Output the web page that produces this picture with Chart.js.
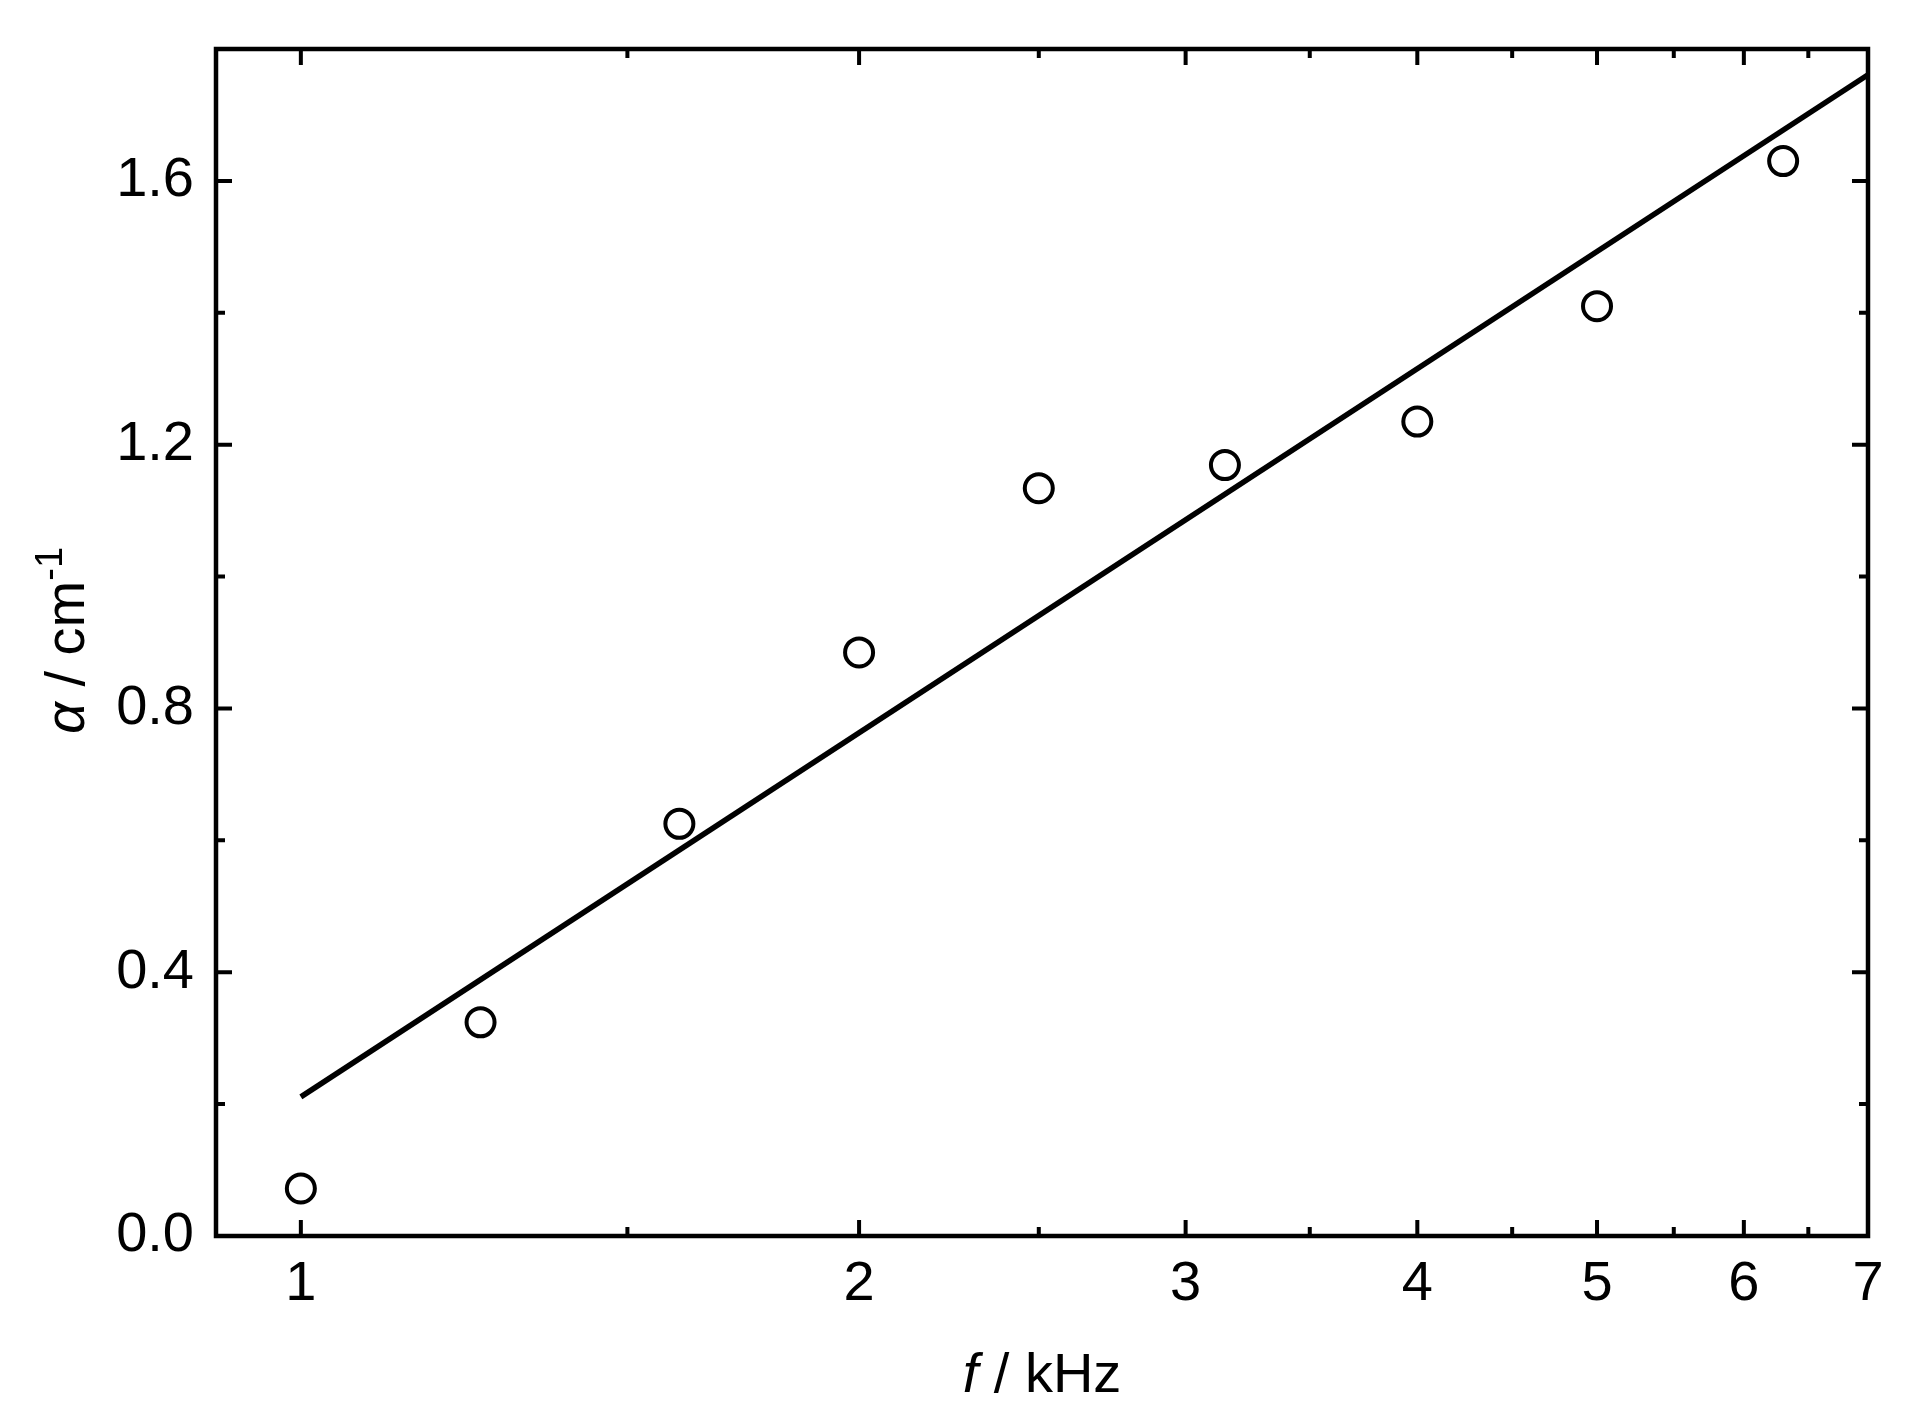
<!DOCTYPE html>
<html>
<head>
<meta charset="utf-8">
<script src="https://cdn.jsdelivr.net/npm/chart.js@4"></script>
<style>
  html, body { margin: 0; padding: 0; background: #fff; }
  #wrap { width: 1906px; height: 1419px; }
</style>
</head>
<body>
<div id="wrap"><canvas id="chart"></canvas></div>
<script>
// measured points (1/3 octave band frequencies)
const freqKHz = [1, 1.25, 1.6, 2, 2.5, 3.15, 4, 5, 6.3];
const alphaCm = [0.072, 0.324, 0.625, 0.885, 1.134, 1.169, 1.235, 1.410, 1.630];

// fitted line end points
const fitFreq = [1, 7];
const fitAlpha = [0.211, 1.761];

// axis ticks
const xMajorTicks = [1, 2, 3, 4, 5, 6, 7];
const xMinorTicks = [1.5, 2.5, 3.5, 4.5, 5.5, 6.5];
const yMajorTicks = [0, 0.4, 0.8, 1.2, 1.6];
const yMinorTicks = [0.2, 0.6, 1.0, 1.4];

const FONT = '"Liberation Sans", Arial, sans-serif';

const pointsData = freqKHz.map((f, i) => ({ x: f, y: alphaCm[i] }));
const fitData = fitFreq.map((f, i) => ({ x: f, y: fitAlpha[i] }));

// frame, inward ticks on all four sides, and the axis titles
const framePlugin = {
    id: 'frame',
    afterDraw(chart) {
        const ctx = chart.ctx;
        const a = chart.chartArea;
        const xs = chart.scales.x;
        const ys = chart.scales.y;
        ctx.save();
        ctx.strokeStyle = '#000';
        ctx.lineWidth = 4.5;
        ctx.lineCap = 'butt';
        ctx.strokeRect(a.left, a.top, a.right - a.left, a.bottom - a.top);

        ctx.lineWidth = 4;
        const tick = (vals, len) => {
            vals.forEach(v => {
                const px = xs.getPixelForValue(v);
                ctx.beginPath();
                ctx.moveTo(px, a.bottom); ctx.lineTo(px, a.bottom - len);
                ctx.moveTo(px, a.top); ctx.lineTo(px, a.top + len);
                ctx.stroke();
            });
        };
        const ytick = (vals, len) => {
            vals.forEach(v => {
                const py = ys.getPixelForValue(v);
                ctx.beginPath();
                ctx.moveTo(a.left, py); ctx.lineTo(a.left + len, py);
                ctx.moveTo(a.right, py); ctx.lineTo(a.right - len, py);
                ctx.stroke();
            });
        };
        tick(xMajorTicks, 16);
        tick(xMinorTicks, 9);
        ytick(yMajorTicks, 16);
        ytick(yMinorTicks, 9);

        ctx.fillStyle = '#000';
        ctx.textBaseline = 'alphabetic';
        ctx.textAlign = 'left';

        // x title: "f / kHz"
        const fItal = 'italic 56px ' + FONT;
        const fNorm = '56px ' + FONT;
        ctx.font = fItal;
        const w1 = ctx.measureText('f').width;
        ctx.font = fNorm;
        const w2 = ctx.measureText(' / kHz').width;
        let x0 = (a.left + a.right) / 2 - (w1 + w2) / 2;
        ctx.font = fItal;
        ctx.fillText('f', x0, 1392);
        ctx.font = fNorm;
        ctx.fillText(' / kHz', x0 + w1, 1392);

        // y title: "α / cm-1"
        const fSup = '38px ' + FONT;
        ctx.font = fItal;
        const a1 = ctx.measureText('α').width;
        ctx.font = fNorm;
        const a2 = ctx.measureText(' / cm').width;
        ctx.font = fSup;
        const a3 = ctx.measureText('-1').width;
        ctx.translate(84, (a.top + a.bottom) / 2 - 2);
        ctx.rotate(-Math.PI / 2);
        let s = -(a1 + a2 + a3) / 2;
        ctx.font = fItal;
        ctx.fillText('α', s, 0);
        ctx.font = fNorm;
        ctx.fillText(' / cm', s + a1, 0);
        ctx.font = fSup;
        ctx.fillText('-1', s + a1 + a2, -22);
        ctx.restore();
    }
};

new Chart(document.getElementById('chart'), {
    type: 'scatter',
    data: {
        datasets: [
            {
                label: 'fit',
                type: 'line',
                data: fitData,
                borderColor: '#000',
                borderWidth: 5.5,
                pointRadius: 0,
                fill: false,
                tension: 0
            },
            {
                label: 'measured',
                data: pointsData,
                pointStyle: 'circle',
                pointRadius: 14,
                borderWidth: 4,
                borderColor: '#000',
                backgroundColor: 'rgba(0,0,0,0)'
            }
        ]
    },
    options: {
        responsive: true,
        maintainAspectRatio: false,
        animation: false,
        layout: {
            padding: { left: 0, right: 38, top: 49, bottom: 0 }
        },
        scales: {
            x: {
                type: 'logarithmic',
                min: 0.9,
                max: 7,
                afterBuildTicks: s => { s.ticks = xMajorTicks.map(v => ({ value: v })); },
                afterFit: s => { s.height = 183; s.paddingLeft = 0; s.paddingRight = 0; },
                grid: { display: false, drawTicks: false },
                border: { display: false },
                ticks: {
                    autoSkip: false,
                    maxRotation: 0,
                    padding: 15,
                    color: '#000',
                    font: { family: FONT, size: 56 },
                    callback: v => String(v)
                }
            },
            y: {
                type: 'linear',
                min: 0,
                max: 1.8,
                afterBuildTicks: s => { s.ticks = yMajorTicks.map(v => ({ value: v })); },
                afterFit: s => { s.width = 216; s.paddingTop = 0; s.paddingBottom = 0; },
                grid: { display: false, drawTicks: false },
                border: { display: false },
                ticks: {
                    padding: 22,
                    color: '#000',
                    font: { family: FONT, size: 56 },
                    callback: v => v.toFixed(1)
                }
            }
        },
        plugins: {
            legend: { display: false },
            tooltip: { enabled: false },
            title: { display: false }
        }
    },
    plugins: [framePlugin]
});
</script>
</body>
</html>
